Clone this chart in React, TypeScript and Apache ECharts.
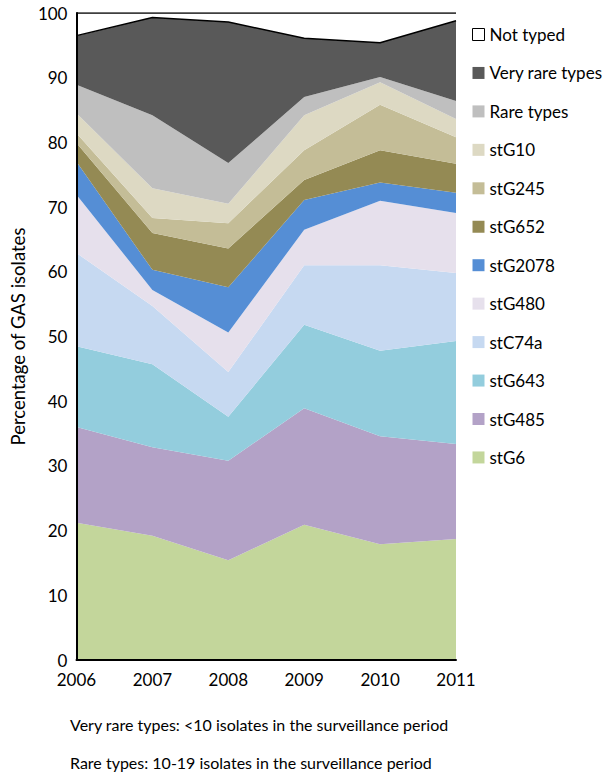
import React, { useEffect, useRef } from "react";
import * as echarts from "echarts";

const years = ["2006", "2007", "2008", "2009", "2010", "2011"];

const stG6 = [21.2, 19.2, 15.4, 20.9, 17.9, 18.7];
const stG485 = [14.8, 13.7, 15.4, 18.0, 16.7, 14.7];
const stG643 = [12.5, 12.8, 6.8, 12.9, 13.2, 15.9];
const stC74a = [14.4, 9.0, 6.9, 9.2, 13.2, 10.5];
const stG480 = [9.0, 2.5, 6.1, 5.5, 10.0, 9.3];
const stG2078 = [5.1, 3.1, 7.0, 4.6, 2.8, 3.1];
const stG652 = [2.9, 5.7, 6.0, 3.1, 5.0, 4.5];
const stG245 = [1.5, 2.3, 3.9, 4.6, 7.0, 4.1];
const stG10 = [3.1, 4.6, 3.0, 5.4, 3.5, 2.8];
const rareTypes = [4.4, 11.3, 6.3, 2.8, 0.8, 2.8];
const veryRareTypes = [7.6, 15.1, 21.8, 9.1, 5.3, 12.4];
const notTyped = [3.5, 0.7, 1.4, 3.9, 4.6, 1.2];

const yTicks = [0, 10, 20, 30, 40, 50, 60, 70, 80, 90, 100];

const seriesDefs = [
  { name: "stG6", data: stG6, color: "#c3d69b" },
  { name: "stG485", data: stG485, color: "#b3a2c7" },
  { name: "stG643", data: stG643, color: "#93cddd" },
  { name: "stC74a", data: stC74a, color: "#c6d9f1" },
  { name: "stG480", data: stG480, color: "#e6e0ec" },
  { name: "stG2078", data: stG2078, color: "#558ed5" },
  { name: "stG652", data: stG652, color: "#948a54" },
  { name: "stG245", data: stG245, color: "#c4bd97" },
  { name: "stG10", data: stG10, color: "#ddd9c3" },
  { name: "Rare types", data: rareTypes, color: "#bfbfbf" },
  { name: "Very rare types", data: veryRareTypes, color: "#595959" },
  { name: "Not typed", data: notTyped, color: "#ffffff" },
];

const FONT = "Lato";

export default function App() {
  const ref = useRef<HTMLDivElement>(null);
  useEffect(() => {
    document.body.style.margin = "0";
    if (!ref.current) return;
    const chart = echarts.init(ref.current, undefined, { renderer: "svg" });
    const series = seriesDefs.map((s) => {
      const outlined = s.name === "Not typed" || s.name === "Very rare types";
      return {
        name: s.name,
        type: "line",
        stack: "total",
        data: s.data,
        symbol: "none",
        showSymbol: false,
        itemStyle: { color: s.color },
        lineStyle: outlined
          ? { color: "#000", width: 1.5 }
          : { width: 0, color: s.color, opacity: 0 },
        areaStyle: { color: s.color, opacity: 1 },
        z: 2,
      };
    });
    const legendData = seriesDefs
      .slice()
      .reverse()
      .map((s) =>
        s.name === "Not typed"
          ? { name: s.name, itemStyle: { color: "#fff", borderColor: "#000", borderWidth: 1 } }
          : { name: s.name, itemStyle: { color: s.color, borderWidth: 0 } }
      );
    chart.setOption({
      animation: false,
      textStyle: { fontFamily: FONT },
      grid: { left: 65, right: 153, top: 13, bottom: 115, containLabel: false },
      legend: {
        orient: "vertical",
        left: 472,
        top: 26,
        padding: 0,
        icon: "rect",
        itemWidth: 12,
        itemHeight: 12,
        itemGap: 21.45,
        data: legendData,
        textStyle: { fontFamily: FONT, fontSize: 17, color: "#000" },
        selectedMode: false,
      },
      xAxis: {
        type: "category",
        data: years,
        boundaryGap: false,
        axisLine: { lineStyle: { color: "#000", width: 2 } },
        axisTick: { show: false },
        axisLabel: { fontFamily: FONT, fontSize: 17, color: "#000", margin: 11 },
        splitLine: { show: false },
        z: 10,
      },
      yAxis: {
        type: "value",
        min: 0,
        max: 100,
        interval: 10,
        name: "Percentage of GAS isolates",
        nameLocation: "middle",
        nameGap: 45,
        nameTextStyle: { fontFamily: FONT, fontSize: 18.5, color: "#000" },
        axisLine: { show: true, lineStyle: { color: "#000", width: 2 } },
        axisTick: { show: false },
        axisLabel: {
          fontFamily: FONT,
          fontSize: 17,
          color: "#000",
          margin: 9,
          formatter: (v: number) => (yTicks.includes(v) ? String(v) : ""),
        },
        splitLine: { show: false },
        z: 10,
      },
      graphic: [
        {
          type: "text",
          left: 70,
          top: 716,
          style: {
            text: "Very rare types: <10 isolates in the surveillance period",
            font: `16px ${FONT}`,
            fill: "#000",
          },
        },
        {
          type: "text",
          left: 70,
          top: 754,
          style: {
            text: "Rare types: 10-19 isolates in the surveillance period",
            font: `16px ${FONT}`,
            fill: "#000",
          },
        },
      ],
      series,
    });
    return () => chart.dispose();
  }, []);
  return <div ref={ref} style={{ width: 609, height: 775 }} />;
}
